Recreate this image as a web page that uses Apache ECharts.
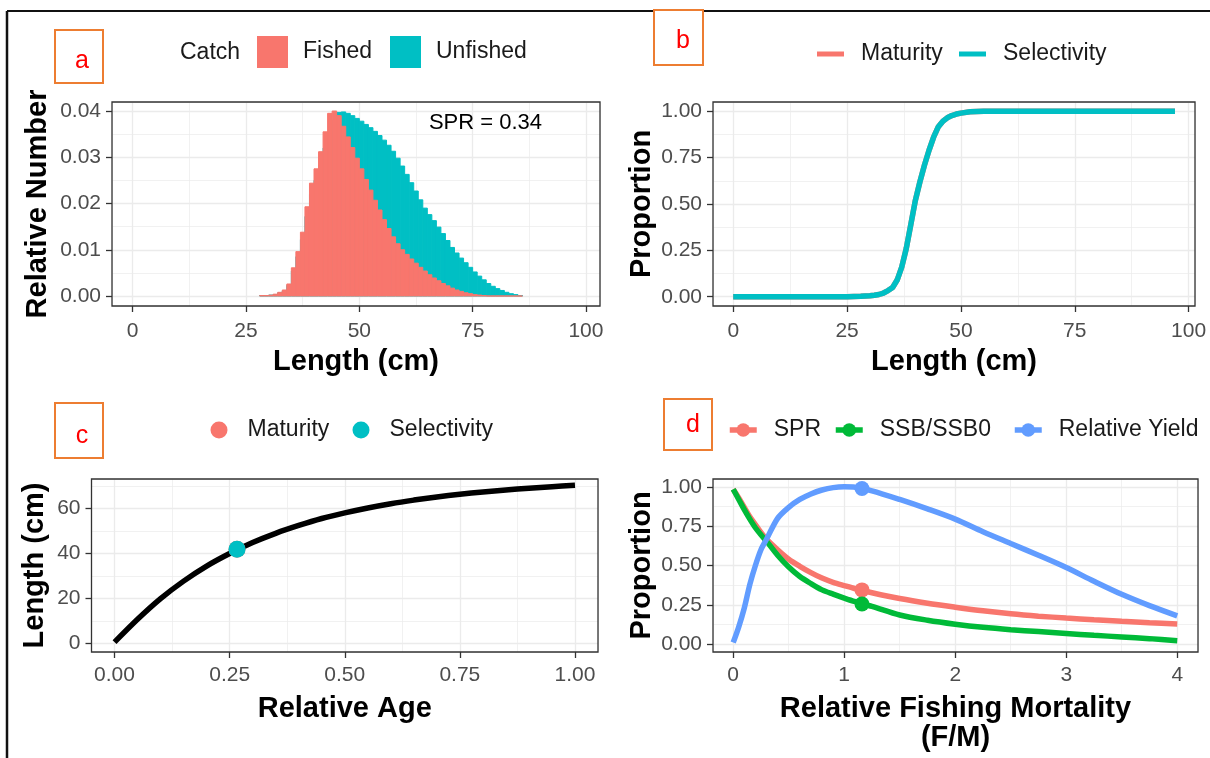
<!DOCTYPE html>
<html>
<head>
<meta charset="utf-8">
<script src="https://cdn.jsdelivr.net/npm/echarts@6/dist/echarts.min.js"></script>
<style>
html,body{margin:0;padding:0;background:#fff;}
#c{width:1210px;height:758px;}
</style>
</head>
<body>
<div id="c"></div>
<script>
// ---------------- Panel a : catch length composition ----------------
const lengthBins = [28.5,29.5,30.5,31.5,32.5,33.5,34.5,35.5,36.5,37.5,38.5,39.5,40.5,41.5,42.5,43.5,44.5,45.5,46.5,47.5,48.5,49.5,50.5,51.5,52.5,53.5,54.5,55.5,56.5,57.5,58.5,59.5,60.5,61.5,62.5,63.5,64.5,65.5,66.5,67.5,68.5,69.5,70.5,71.5,72.5,73.5,74.5,75.5,76.5,77.5,78.5,79.5,80.5,81.5,82.5,83.5,84.5,85.5];
const binWidth = 1;
const fishedCatch = [0.0001,0.0001,0.0002,0.0004,0.0008,0.0013,0.0026,0.0061,0.0096,0.0138,0.0193,0.0244,0.0275,0.0312,0.0355,0.0395,0.0400,0.0390,0.0367,0.0344,0.0321,0.0298,0.0275,0.0252,0.0229,0.0207,0.0186,0.0165,0.0146,0.0128,0.0113,0.0100,0.0090,0.0080,0.0071,0.0062,0.0054,0.0046,0.0039,0.0033,0.0027,0.0022,0.0017,0.0013,0.0010,0.0007,0.0005,0.0003,0.0002,0.0001,0,0,0,0,0,0,0,0];
const unfishedCatch = [0.0001,0.0001,0.0002,0.0003,0.0007,0.0011,0.0023,0.0054,0.0085,0.0122,0.0172,0.0220,0.0250,0.0282,0.0320,0.0355,0.0380,0.0397,0.0398,0.0395,0.0390,0.0384,0.0378,0.0371,0.0364,0.0356,0.0347,0.0337,0.0326,0.0313,0.0298,0.0281,0.0263,0.0245,0.0227,0.0208,0.0190,0.0176,0.0163,0.0149,0.0135,0.0120,0.0105,0.0093,0.0082,0.0072,0.0062,0.0052,0.0043,0.0035,0.0027,0.0021,0.0016,0.0012,0.0008,0.0005,0.0003,0.0001];
const lengthTicks = [0,25,50,75,100];
const relNumberTicks = [0,0.01,0.02,0.03,0.04];
const sprText = 'SPR = 0.34';

// ---------------- Panel b : maturity / selectivity at length ----------------
const selLength = [0,5,10,15,20,25,28,30,31,32,33,34,35,36,37,38,39,40,41,42,43,44,45,46,47,48,49,50,52,55,60,65,70,75,80,85,90,97];
const selectivityAtLength = [0,0,0,0,0,0,0.002,0.005,0.008,0.012,0.02,0.033,0.05,0.09,0.16,0.26,0.39,0.52,0.62,0.71,0.79,0.86,0.915,0.945,0.965,0.977,0.985,0.99,0.997,1,1,1,1,1,1,1,1,1];
const maturityAtLength = [0,0,0,0,0,0,0.002,0.005,0.008,0.012,0.02,0.033,0.05,0.09,0.16,0.26,0.39,0.52,0.62,0.71,0.79,0.86,0.915,0.945,0.965,0.977,0.985,0.99,0.997,1,1,1,1,1,1,1,1,1];
const proportionTicks = [0,0.25,0.5,0.75,1];

// ---------------- Panel c : growth curve ----------------
const relAge = [0,0.05,0.1,0.15,0.2,0.25,0.3,0.35,0.4,0.45,0.5,0.55,0.6,0.65,0.7,0.75,0.8,0.85,0.9,0.95,1.0];
const lengthAtAge = [0.5,10.7,19.9,27.7,34.4,40.0,44.9,49.0,52.5,55.6,58.1,60.3,62.2,63.8,65.2,66.4,67.4,68.3,69.1,69.8,70.4];
const maturityPoint = [0.266, 41.9];
const selectivityPoint = [0.266, 41.9];
const ageTicks = [0,0.25,0.5,0.75,1];
const lengthCmTicks = [0,20,40,60];

// ---------------- Panel d : per-recruit curves ----------------
const fOverM = [0,0.05,0.1,0.15,0.2,0.25,0.3,0.4,0.5,0.6,0.7,0.8,0.9,1.0,1.1,1.25,1.5,1.75,2,2.25,2.5,2.75,3,3.25,3.5,3.75,4];
const sprCurve = [0.985,0.93,0.87,0.81,0.76,0.71,0.667,0.60,0.54,0.495,0.455,0.42,0.393,0.372,0.352,0.327,0.29,0.26,0.235,0.212,0.193,0.178,0.166,0.155,0.145,0.136,0.128];
const ssbCurve = [0.985,0.92,0.855,0.795,0.74,0.695,0.655,0.565,0.49,0.43,0.385,0.345,0.318,0.293,0.27,0.24,0.185,0.152,0.127,0.107,0.092,0.08,0.068,0.056,0.046,0.035,0.022];
const yieldCurve = [0.01,0.11,0.23,0.38,0.50,0.60,0.667,0.80,0.87,0.92,0.955,0.98,0.995,1.0,0.998,0.975,0.92,0.86,0.795,0.715,0.64,0.565,0.487,0.40,0.317,0.245,0.18];
const currentF = 1.16;
const sprAtF = 0.345, ssbAtF = 0.255, yieldAtF = 0.99;
const fTicks = [0,1,2,3,4];

// ---------------- styling ----------------
const FONT = '"Liberation Sans", Arial, Helvetica, sans-serif';
const RED = '#F8766D', TEAL = '#00BFC4', GREEN = '#00BA38', BLUE = '#619CFF';

function axisPair(dim, g, min, max, major, minor, ticks, dec, name, nameGap, labelMargin) {
  const tol = (max - min) * 1e-6;
  const fmt = function (v) {
    const t = ticks.find(function (t) { return Math.abs(t - v) < tol; });
    return t === undefined ? '' : t.toFixed(dec);
  };
  const primary = {
    type: 'value', gridIndex: g, min: min, max: max, minInterval: major, maxInterval: major,
    position: dim === 'x' ? 'bottom' : 'left',
    axisLine: { show: false, onZero: false },
    axisTick: { show: true, inside: false, length: 6, lineStyle: { color: '#333333', width: 1.3 }, customValues: ticks },
    axisLabel: { show: true, customValues: ticks, formatter: fmt, color: '#4D4D4D', fontSize: 21, fontFamily: FONT, margin: labelMargin, hideOverlap: false },
    splitLine: { show: true, lineStyle: { color: '#EBEBEB', width: 1.3 } },
    minorTick: { show: false }, minorSplitLine: { show: false },
    name: name, nameLocation: 'middle', nameGap: nameGap, nameMoveOverlap: false,
    nameTextStyle: { fontSize: 29, fontWeight: 'bold', color: '#000', fontFamily: FONT, lineHeight: 29 }
  };
  const secondary = {
    type: 'value', gridIndex: g, min: min, max: max, minInterval: minor, maxInterval: minor,
    position: dim === 'x' ? 'top' : 'right',
    axisLine: { show: false, onZero: false }, axisTick: { show: false }, axisLabel: { show: false },
    splitLine: { show: true, lineStyle: { color: '#EBEBEB', width: 0.7 } }
  };
  return [primary, secondary];
}

const gridBase = { show: true, z: 5, backgroundColor: 'rgba(0,0,0,0)', borderColor: '#333333', borderWidth: 1.3, containLabel: false, outerBoundsMode: 'none' };
const grids = [
  Object.assign({ left: 112, top: 102, width: 488, height: 204 }, gridBase),
  Object.assign({ left: 713, top: 102, width: 482, height: 204 }, gridBase),
  Object.assign({ left: 91.5, top: 479, width: 506.5, height: 173 }, gridBase),
  Object.assign({ left: 713, top: 479, width: 485, height: 173 }, gridBase)
];

const xAxes = [].concat(
  axisPair('x', 0, -4.57, 103.1, 25, 12.5, lengthTicks, 0, 'Length (cm)', 41, 15),
  axisPair('x', 1, -4.44, 101.4, 25, 12.5, lengthTicks, 0, 'Length (cm)', 41, 15),
  axisPair('x', 2, -0.05, 1.05, 0.25, 0.125, ageTicks, 2, 'Relative Age', 42, 13),
  axisPair('x', 3, -0.182, 4.187, 1, 0.5, fTicks, 0, 'Relative Fishing Mortality\n(F/M)', 42, 13)
);
const yAxes = [].concat(
  axisPair('y', 0, -0.00216, 0.04195, 0.01, 0.005, relNumberTicks, 2, 'Relative Number', 60, 11),
  axisPair('y', 1, -0.05, 1.05, 0.25, 0.125, proportionTicks, 2, 'Proportion', 57, 11),
  axisPair('y', 2, -3.88, 73.2, 20, 10, lengthCmTicks, 0, 'Length (cm)', 42, 11),
  axisPair('y', 3, -0.05, 1.05, 0.25, 0.125, proportionTicks, 2, 'Proportion', 57, 11)
);

function histRenderer(params, api) {
  const x = api.value(0), y = api.value(1);
  const tl = api.coord([x - binWidth / 2, y]);
  const br = api.coord([x + binWidth / 2, 0]);
  const c = api.visual('color');
  return { type: 'rect', shape: { x: tl[0], y: tl[1], width: br[0] - tl[0], height: br[1] - tl[1] },
           style: { fill: c, stroke: c, lineWidth: 1 } };
}
function pairs(xs, ys) { return xs.map(function (x, i) { return [x, ys[i]]; }); }

const series = [
  { type: 'custom', name: 'Unfished', xAxisIndex: 0, yAxisIndex: 0, renderItem: histRenderer, clip: true,
    itemStyle: { color: TEAL }, encode: { x: 0, y: 1 }, data: pairs(lengthBins, unfishedCatch), z: 2 },
  { type: 'custom', name: 'Fished', xAxisIndex: 0, yAxisIndex: 0, renderItem: histRenderer, clip: true,
    itemStyle: { color: RED }, encode: { x: 0, y: 1 }, data: pairs(lengthBins, fishedCatch), z: 3 },

  { type: 'line', name: 'Maturity (b)', xAxisIndex: 2, yAxisIndex: 2, symbol: 'none', showSymbol: false,
    lineStyle: { color: RED, width: 5.5 }, itemStyle: { color: RED }, data: pairs(selLength, maturityAtLength), z: 2 },
  { type: 'line', name: 'Selectivity (b)', xAxisIndex: 2, yAxisIndex: 2, symbol: 'none', showSymbol: false,
    lineStyle: { color: TEAL, width: 5.5 }, itemStyle: { color: TEAL }, data: pairs(selLength, selectivityAtLength), z: 3 },

  { type: 'line', name: 'Growth', xAxisIndex: 4, yAxisIndex: 4, symbol: 'none', showSymbol: false, smooth: 0.3,
    lineStyle: { color: '#000', width: 5.5 }, itemStyle: { color: '#000' }, data: pairs(relAge, lengthAtAge), z: 2 },
  { type: 'scatter', name: 'Maturity (c)', xAxisIndex: 4, yAxisIndex: 4, symbol: 'circle', symbolSize: 17,
    itemStyle: { color: RED, opacity: 1 }, data: [maturityPoint], z: 3 },
  { type: 'scatter', name: 'Selectivity (c)', xAxisIndex: 4, yAxisIndex: 4, symbol: 'circle', symbolSize: 17,
    itemStyle: { color: TEAL, opacity: 1 }, data: [selectivityPoint], z: 4 },

  { type: 'line', name: 'SPR', xAxisIndex: 6, yAxisIndex: 6, symbol: 'circle', symbolSize: 12, showSymbol: false, smooth: 0.3,
    lineStyle: { color: RED, width: 5.5 }, itemStyle: { color: RED }, data: pairs(fOverM, sprCurve), z: 2 },
  { type: 'line', name: 'SSB/SSB0', xAxisIndex: 6, yAxisIndex: 6, symbol: 'circle', symbolSize: 12, showSymbol: false, smooth: 0.3,
    lineStyle: { color: GREEN, width: 5.5 }, itemStyle: { color: GREEN }, data: pairs(fOverM, ssbCurve), z: 2 },
  { type: 'line', name: 'Relative Yield', xAxisIndex: 6, yAxisIndex: 6, symbol: 'circle', symbolSize: 12, showSymbol: false, smooth: 0.3,
    lineStyle: { color: BLUE, width: 5.5 }, itemStyle: { color: BLUE }, data: pairs(fOverM, yieldCurve), z: 2 },
  { type: 'scatter', name: 'SPR point', xAxisIndex: 6, yAxisIndex: 6, symbolSize: 15, itemStyle: { color: RED, opacity: 1 }, data: [[currentF, sprAtF]], z: 4 },
  { type: 'scatter', name: 'SSB point', xAxisIndex: 6, yAxisIndex: 6, symbolSize: 15, itemStyle: { color: GREEN, opacity: 1 }, data: [[currentF, ssbAtF]], z: 4 },
  { type: 'scatter', name: 'Yield point', xAxisIndex: 6, yAxisIndex: 6, symbolSize: 15, itemStyle: { color: BLUE, opacity: 1 }, data: [[currentF, yieldAtF]], z: 4 }
];

const legendText = { fontSize: 23, color: '#1A1A1A', fontFamily: FONT, lineHeight: 26 };
function legendItem(name, left, top, icon, w, h, pad) {
  const o = { data: [name], left: left, top: top, itemWidth: w, itemHeight: h, padding: 0, selectedMode: false,
    formatter: function (n) { return n.replace(/ \([bc]\)$/, ''); },
    textStyle: Object.assign({ padding: [0, 0, 0, pad] }, legendText) };
  if (icon) o.icon = icon;
  else o.lineStyle = { width: 5.5 };
  return o;
}
const legends = [
  legendItem('Fished', 257, 36, 'rect', 31, 32, 10),
  legendItem('Unfished', 390, 36, 'rect', 31, 32, 10),
  legendItem('Maturity (b)', 817, 41, 'rect', 27, 5, 12),
  legendItem('Selectivity (b)', 959, 41, 'rect', 27, 5, 12),
  legendItem('Maturity (c)', 210.5, 417, 'circle', 19, 17, 14),
  legendItem('Selectivity (c)', 352.5, 417, 'circle', 19, 17, 14),
  legendItem('SPR', 727, 417, null, 27, 17, 12),
  legendItem('SSB/SSB0', 833, 417, null, 27, 17, 12),
  legendItem('Relative Yield', 1012, 417, null, 27, 17, 12)
];

function letterBox(letter, bx, by, bw, bh, tx, ty) {
  return [
    { type: 'rect', shape: { x: bx, y: by, width: bw, height: bh }, style: { fill: '#fff', stroke: '#ED7D31', lineWidth: 2 }, z: 100 },
    { type: 'text', x: tx, y: ty, style: { text: letter, fill: '#FF0000', fontSize: 25, fontFamily: FONT, align: 'center', verticalAlign: 'middle' }, z: 101 }
  ];
}
const graphics = [].concat(
  [{ type: 'line', shape: { x1: 7, y1: 11, x2: 1210, y2: 11 }, style: { stroke: '#111', lineWidth: 2 }, z: 100 },
   { type: 'line', shape: { x1: 7, y1: 11, x2: 7, y2: 758 }, style: { stroke: '#111', lineWidth: 2.5 }, z: 100 },
   { type: 'text', x: 180, y: 53, style: { text: 'Catch', fill: '#1A1A1A', fontSize: 23, fontFamily: FONT, align: 'left', verticalAlign: 'middle' }, z: 100 },
   { type: 'text', x: 485.5, y: 123, style: { text: sprText, fill: '#000', fontSize: 22, fontFamily: FONT, align: 'center', verticalAlign: 'middle' }, z: 100 }],
  letterBox('a', 55, 30, 48, 53, 82, 61),
  letterBox('b', 654, 10, 49, 55, 683, 41),
  letterBox('c', 55, 403, 48, 55, 82, 436),
  letterBox('d', 664, 399, 48, 51, 693, 425)
);

const chart = echarts.init(document.getElementById('c'), null, { renderer: 'canvas', width: 1210, height: 758 });
chart.setOption({
  animation: false,
  backgroundColor: '#ffffff',
  textStyle: { fontFamily: FONT },
  grid: grids,
  xAxis: xAxes,
  yAxis: yAxes,
  legend: legends,
  series: series,
  graphic: graphics
});
</script>
</body>
</html>
